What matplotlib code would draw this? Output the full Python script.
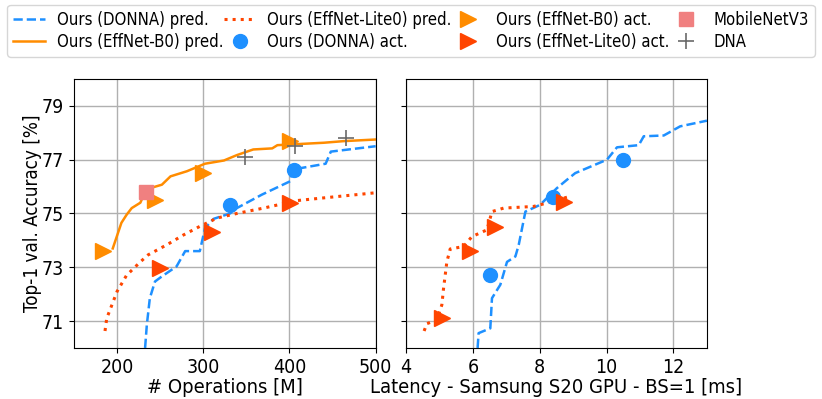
import matplotlib
matplotlib.use("Agg")
from matplotlib import pyplot as plt
import numpy as np

# ---- predicted curves, left panel (# operations) ----
b0_pred_ops = [195, 205, 211, 217, 227, 234, 252, 262, 281, 302, 324, 339, 358, 380, 386, 440, 463, 500]
b0_pred_acc = [73.7, 74.65, 74.95, 75.2, 75.4, 75.9, 76.07, 76.38, 76.57, 76.85, 76.97, 77.17, 77.38, 77.42, 77.54, 77.63, 77.69, 77.75]

lite_pred_ops = [186, 188, 194, 200, 211, 227, 236, 258, 277, 296, 316, 339, 370, 409, 440, 500]
lite_pred_acc = [70.63, 71.1, 71.6, 72.1, 72.7, 73.2, 73.46, 73.84, 74.2, 74.52, 74.83, 75.0, 75.2, 75.48, 75.58, 75.77]

donna_pred_ops = [232.5, 234.5, 238, 244, 252, 269, 279, 296, 302, 312, 331, 339, 368, 401, 403, 442, 448, 500]
donna_pred_acc = [70.0, 70.85, 71.85, 72.47, 72.66, 73.03, 73.6, 73.6, 74.45, 74.8, 75.0, 75.2, 75.7, 76.2, 76.63, 76.85, 77.3, 77.5]

# ---- actual points, left panel ----
b0_act_ops = [184, 244, 300, 401]
b0_act_acc = [73.6, 75.5, 76.5, 77.7]
donna_act_ops = [331, 405]
donna_act_acc = [75.3, 76.6]
lite_act_ops = [250, 310, 401]
lite_act_acc = [72.97, 74.3, 75.4]
mnv3_ops = [233]
mnv3_acc = [75.8]
dna_ops = [348, 407, 466]
dna_acc = [77.1, 77.5, 77.8]

# ---- right panel (latency) ----
donna_pred_lat = [6.14, 6.17, 6.52, 6.57, 6.82, 7.02, 7.27, 7.37, 7.57, 8.01, 8.51, 8.81, 9.06, 10.01, 10.31, 10.96, 11.11, 11.71, 12.2, 13.0]
donna_pred_lacc = [70.0, 70.55, 70.73, 71.85, 72.35, 73.2, 73.4, 73.83, 75.07, 75.32, 75.94, 76.25, 76.5, 77.0, 77.46, 77.54, 77.87, 77.9, 78.24, 78.45]

lite_pred_lat = [4.54, 4.62, 4.92, 5.07, 5.12, 5.22, 5.32, 5.72, 5.97, 6.42, 6.57, 6.92, 7.81, 8.22, 8.91]
lite_pred_lacc = [70.63, 70.9, 71.04, 71.6, 72.2, 73.2, 73.68, 73.77, 74.14, 74.39, 75.07, 75.2, 75.26, 75.39, 75.64]

donna_act_lat = [6.5, 8.4, 10.5]
donna_act_lacc = [72.72, 75.62, 77.0]
lite_act_lat = [5.07, 5.92, 6.67, 8.71]
lite_act_lacc = [71.1, 73.62, 74.5, 75.42]

blue = "#1E90FF"
orange = "#FF8C00"
red = "#FF4500"

plt.rcParams['font.family'] = ['DejaVu Sans']
plt.rcParams['font.stretch'] = 'condensed'

fig = plt.figure(figsize=(8.22, 3.99), dpi=100)
ax1 = fig.add_axes([0.090, 0.128, 0.367, 0.674])
ax2 = fig.add_axes([0.494, 0.128, 0.366, 0.674], sharey=ax1)

h1, = ax1.plot(donna_pred_ops, donna_pred_acc, '--', color=blue, lw=1.8, label='Ours (DONNA) pred.')
h2, = ax1.plot(b0_pred_ops, b0_pred_acc, '-', color=orange, lw=1.8, label='Ours (EffNet-B0) pred.')
h3, = ax1.plot(lite_pred_ops, lite_pred_acc, ':', color=red, lw=2.2, label='Ours (EffNet-Lite0) pred.')
h4, = ax1.plot(donna_act_ops, donna_act_acc, 'o', color=blue, ms=10, ls='none', label='Ours (DONNA) act.')
h5, = ax1.plot(b0_act_ops, b0_act_acc, '>', color=orange, ms=11, ls='none', label='Ours (EffNet-B0) act.')
h6, = ax1.plot(lite_act_ops, lite_act_acc, '>', color=red, ms=11, ls='none', label='Ours (EffNet-Lite0) act.')
h7, = ax1.plot(mnv3_ops, mnv3_acc, 's', color='#F08080', ms=10, ls='none', label='MobileNetV3')
h8, = ax1.plot(dna_ops, dna_acc, '+', color='dimgray', ms=12, mew=1.2, ls='none', label='DNA')

ax2.plot(donna_pred_lat, donna_pred_lacc, '--', color=blue, lw=1.8)
ax2.plot(lite_pred_lat, lite_pred_lacc, ':', color=red, lw=2.2)
ax2.plot(donna_act_lat, donna_act_lacc, 'o', color=blue, ms=10, ls='none')
ax2.plot(lite_act_lat, lite_act_lacc, '>', color=red, ms=11, ls='none')

ax1.set_xlim(150, 500)
ax1.set_xticks([200, 300, 400, 500])
ax1.set_ylim(70, 80)
ax1.set_yticks([71, 73, 75, 77, 79])
ax2.set_xlim(4, 13)
ax2.set_xticks([4, 6, 8, 10, 12])
plt.setp(ax2.get_yticklabels(), visible=False)

for ax in (ax1, ax2):
    ax.grid(True, color='#b0b0b0', lw=1)
    ax.tick_params(labelsize=14)

ax1.set_xlabel('# Operations [M]', fontsize=14.5, labelpad=1)
ax2.set_xlabel('Latency - Samsung S20 GPU - BS=1 [ms]', fontsize=14.5, labelpad=1)
ax1.set_ylabel('Top-1 val. Accuracy [%]', fontsize=13.5)
ax1.yaxis.set_label_coords(-0.106, 0.5)

fig.legend(handles=[h1, h2, h3, h4, h5, h6, h7, h8], loc='upper center',
           bbox_to_anchor=(0.5, 0.988), ncol=4, fontsize=12,
           handlelength=1.9, columnspacing=0.05, handletextpad=0.7,
           borderpad=0.35, labelspacing=0.25, borderaxespad=0)

fig.savefig('out.png', dpi=100)
